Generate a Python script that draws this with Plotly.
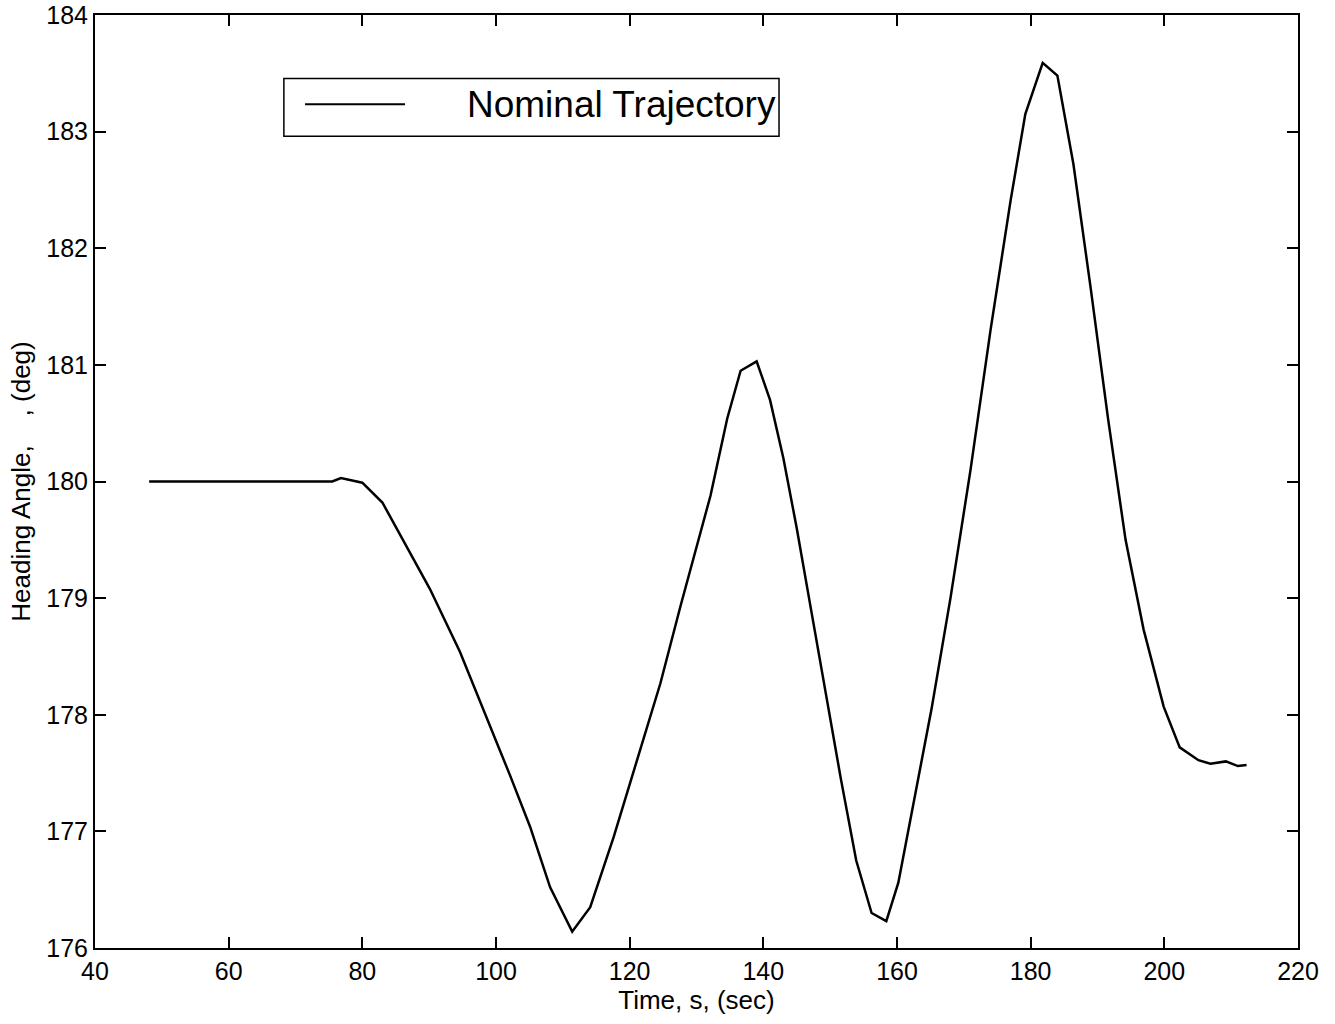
import plotly.graph_objects as go

time_s = [48.1, 60.0, 70.0, 75.5, 76.8, 80.0, 83.0, 86.1, 90.1, 94.6, 99.1, 102.1,
          105.1, 108.1, 111.4, 114.1, 117.6, 121.1, 124.6, 127.6, 132.1,
          134.6, 136.6, 139.0, 141.0, 143.0, 145.0, 147.3, 149.6, 151.6, 153.9, 156.2,
          158.4, 160.2, 162.7, 165.2, 168.0, 171.0, 174.0, 177.0, 179.2, 181.8, 184.0,
          186.4, 189.0, 191.6, 194.2, 196.9, 199.9, 202.3, 205.1, 206.9, 209.2, 211.0, 212.3]
heading_deg = [180.0, 180.0, 180.0, 180.0, 180.03, 179.99, 179.82, 179.5, 179.08, 178.54,
               177.91, 177.48, 177.04, 176.52, 176.14, 176.35, 176.95, 177.6, 178.27,
               178.93, 179.88, 180.54, 180.95, 181.03, 180.7, 180.2, 179.6, 178.85, 178.1,
               177.45, 176.75, 176.3, 176.23, 176.56, 177.31, 178.06, 179.0,
               180.1, 181.3, 182.41, 183.15, 183.59, 183.48, 182.72, 181.65, 180.53, 179.5,
               178.73, 178.07, 177.72, 177.61, 177.58, 177.6, 177.56, 177.57]

x_ticks = [40, 60, 80, 100, 120, 140, 160, 180, 200, 220]
y_ticks = [176, 177, 178, 179, 180, 181, 182, 183, 184]

FONT = "Liberation Sans, Arial, sans-serif"

fig = go.Figure()
fig.add_trace(go.Scatter(x=time_s, y=heading_deg, mode="lines",
                         line=dict(color="black", width=2.5), showlegend=False,
                         name="Nominal Trajectory"))

axis_common = dict(showgrid=False, zeroline=False, showline=True, linecolor="black",
                   linewidth=2, mirror="ticks", ticks="inside", ticklen=11, tickwidth=2,
                   tickcolor="black", automargin=False,
                   tickfont=dict(family=FONT, size=25, color="black"))

fig.update_xaxes(range=[40, 220], tickvals=x_ticks, ticktext=[str(v) for v in x_ticks],
                 title=dict(text="Time, s, (sec)", font=dict(family=FONT, size=26, color="black"),
                            standoff=4),
                 **axis_common)
fig.update_yaxes(range=[176, 184], tickvals=y_ticks, ticktext=[str(v) for v in y_ticks],
                 title=dict(text="Heading Angle,&nbsp;&nbsp;&nbsp;&nbsp;, (deg)",
                            font=dict(family=FONT, size=26, color="black"), standoff=8),
                 **axis_common)

# legend box drawn manually
fig.add_shape(type="rect", xref="paper", yref="paper", x0=0.157, x1=0.5686, y0=0.870, y1=0.932,
              line=dict(color="black", width=1.5), fillcolor="white", layer="above")
fig.add_shape(type="line", xref="paper", yref="paper", x0=0.1746, x1=0.2577, y0=0.9043, y1=0.9043,
              line=dict(color="black", width=2), layer="above")
fig.add_annotation(xref="paper", yref="paper", x=0.5675, y=0.9043, text="Nominal Trajectory",
                   showarrow=False, xanchor="right", yanchor="middle",
                   font=dict(family=FONT, size=37, color="black"))

fig.update_layout(width=1335, height=1024, paper_bgcolor="white", plot_bgcolor="white",
                  margin=dict(l=95, r=37, t=15, b=76))

fig.write_html("out.html")
